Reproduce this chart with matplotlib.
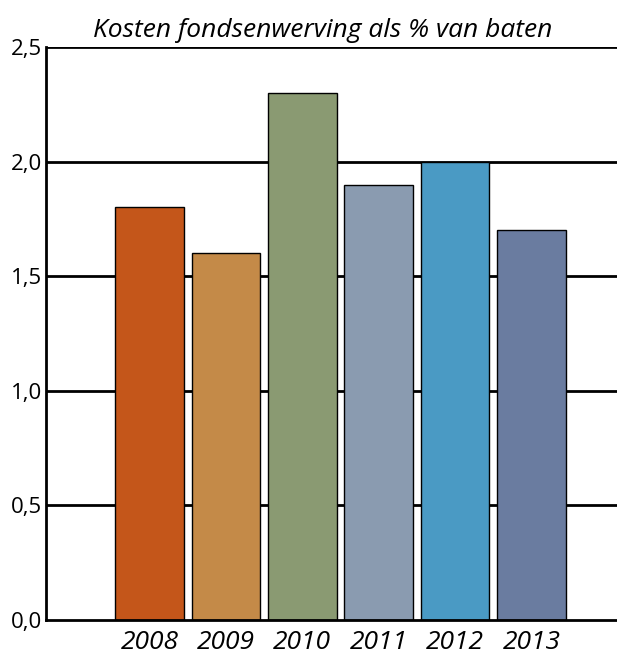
import numpy as np
import matplotlib.pyplot as plt

years = ["2008", "2009", "2010", "2011", "2012", "2013"]
values = [1.8, 1.6, 2.3, 1.9, 2.0, 1.7]
colors = ["#C4561A", "#C48A48", "#8A9A72", "#8A9BB0", "#4A9AC4", "#6A7CA0"]
yticks = [0.0, 0.5, 1.0, 1.5, 2.0, 2.5]

plt.rcParams["font.family"] = ["Open Sans", "DejaVu Sans"]

fig = plt.figure(figsize=(6.17, 6.57), dpi=100)
ax = fig.add_axes([46 / 617, 37 / 657, 1 - 46 / 617, 573 / 657])

x = np.arange(len(years))
for yv in yticks[1:]:
    ax.axhline(yv, color="black", linewidth=2, zorder=1)
ax.bar(x, values, width=0.9, color=colors, edgecolor="black", linewidth=1, zorder=2)

ax.set_xlim(-1.355, 6.12)
ax.set_ylim(0, 2.5)
ax.set_yticks(yticks)
ax.set_yticklabels([f"{v:.1f}".replace(".", ",") for v in yticks], fontsize=16)
ax.set_xticks(x)
ax.set_xticklabels(years, fontsize=19, style="italic")
ax.tick_params(length=0, pad=3)
ax.tick_params(axis="x", pad=7)

for side in ["top", "right"]:
    ax.spines[side].set_visible(False)
for side in ["left", "bottom"]:
    ax.spines[side].set_linewidth(2)
    ax.spines[side].set_zorder(3)

ax.set_title("Kosten fondsenwerving als % van baten", fontsize=19, style="italic", pad=7, x=0.485)

fig.savefig("out.png", dpi=100)
